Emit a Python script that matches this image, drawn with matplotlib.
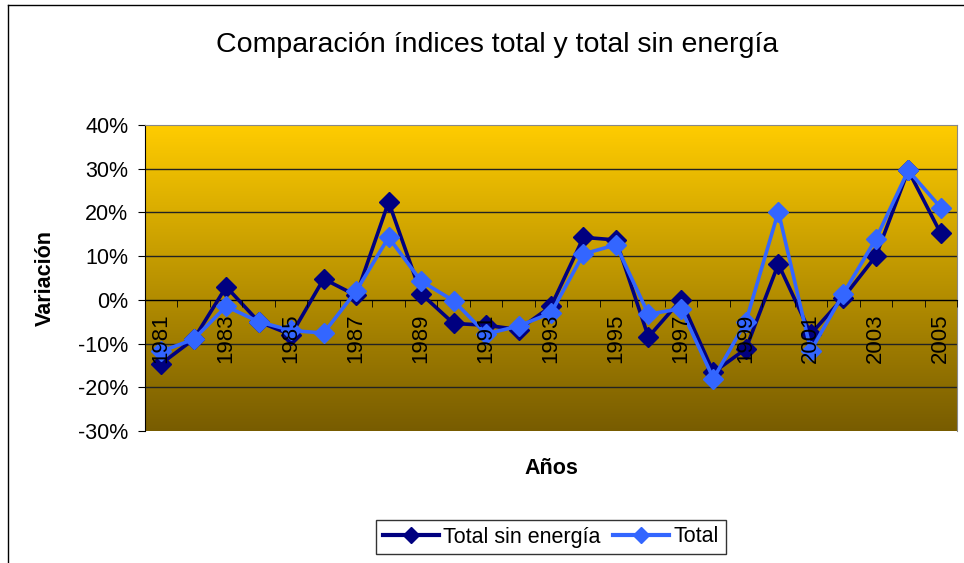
import matplotlib.pyplot as plt
import numpy as np
from matplotlib.lines import Line2D

years = list(range(1981, 2006))
sin_energia = [-14.6, -9.0, 3.0, -5.0, -8.0, 4.8, 1.0, 22.4, 1.4, -5.4, -5.8, -6.8,
               -1.5, 14.3, 13.7, -8.5, 0.0, -16.6, -11.2, 8.2, -7.8, 0.5, 10.0, 29.6, 15.2]
total = [-11.8, -9.0, -1.5, -5.0, -7.0, -7.6, 2.0, 14.3, 4.3, -0.2, -7.8, -6.0,
         -3.0, 10.5, 12.6, -3.3, -2.0, -18.0, -5.0, 20.2, -11.6, 1.4, 13.9, 29.6, 21.1]
yticks = [-30, -20, -10, 0, 10, 20, 30, 40]

plt.rcParams['font.family'] = ['Liberation Sans', 'DejaVu Sans']

fig = plt.figure(figsize=(9.64, 5.63), dpi=100)
ax = fig.add_axes([145/964, 132/563, 812/964, 306/563])

x = np.arange(len(years))

# gradient background: gold at top, brown at bottom
top = np.array([255, 204, 0]) / 255
bot = np.array([120, 92, 0]) / 255
t = np.linspace(0, 1, 256)[:, None]
grad = (top * (1 - t) + bot * t)[:, None, :]
ax.imshow(grad, extent=[-0.5, 24.5, -30, 40], aspect='auto', zorder=0)

for v in yticks[1:-1]:
    ax.axhline(v, color='#222222', lw=1, zorder=1)

ax.plot(x, sin_energia, color='#000080', lw=2.6, marker='D', markersize=10.5, zorder=3,
        label='Total sin energía')
ax.plot(x, total, color='#3366FF', lw=2.6, marker='D', markersize=10.5, zorder=4,
        label='Total')

ax.set_xlim(-0.5, 24.5)
ax.set_ylim(-30, 40)
ax.set_yticks(yticks)
ax.set_yticklabels([f'{v}%' for v in yticks], fontsize=15.5)
ax.tick_params(axis='y', direction='out', length=5, color='black', pad=7)

ax.spines['bottom'].set_position(('data', 0))
ax.spines['bottom'].set_color('black')
ax.spines['left'].set_color('black')
ax.spines['top'].set_color('#888888')
ax.spines['right'].set_color('#888888')

ax.set_xticks(x[::2])
ax.set_xticklabels([str(y) for y in years[::2]], rotation=90, fontsize=16)
ax.set_xticks(np.arange(-0.5, 25, 1), minor=True)
ax.tick_params(axis='x', which='major', length=0, pad=10)
ax.tick_params(axis='x', which='minor', direction='out', length=5, color='black')
ax.xaxis.set_zorder(5)  # year labels sit on top of the series, as in the original

ax.set_ylabel('Variación', fontsize=15.5, fontweight='bold', labelpad=16)
fig.text(551/964, 1 - 468/563, 'Años', fontsize=15.5, fontweight='bold', ha='center', va='center')
fig.text(497/964, 1 - 45/563, 'Comparación índices total y total sin energía', fontsize=20.5,
         ha='center', va='center')

handles = [Line2D([], [], color='#000080', lw=3, marker='D', markersize=8),
           Line2D([], [], color='#3366FF', lw=3, marker='D', markersize=8)]
leg = fig.legend(handles, ['Total sin energía', 'Total'], loc='center',
                 bbox_to_anchor=(551/964, 1 - 537/563), ncol=2, fontsize=15.5,
                 frameon=True, fancybox=False, edgecolor='black', handlelength=2.6,
                 handletextpad=0.2, columnspacing=0.6, borderpad=0.3)
leg.get_frame().set_linewidth(1)

# outer chart border
fig.add_artist(Line2D([8/964, 8/964], [0, 1 - 5/563], color='black', lw=1, transform=fig.transFigure))
fig.add_artist(Line2D([8/964, 1], [1 - 5/563, 1 - 5/563], color='black', lw=1, transform=fig.transFigure))

fig.savefig('out.png', dpi=100)
